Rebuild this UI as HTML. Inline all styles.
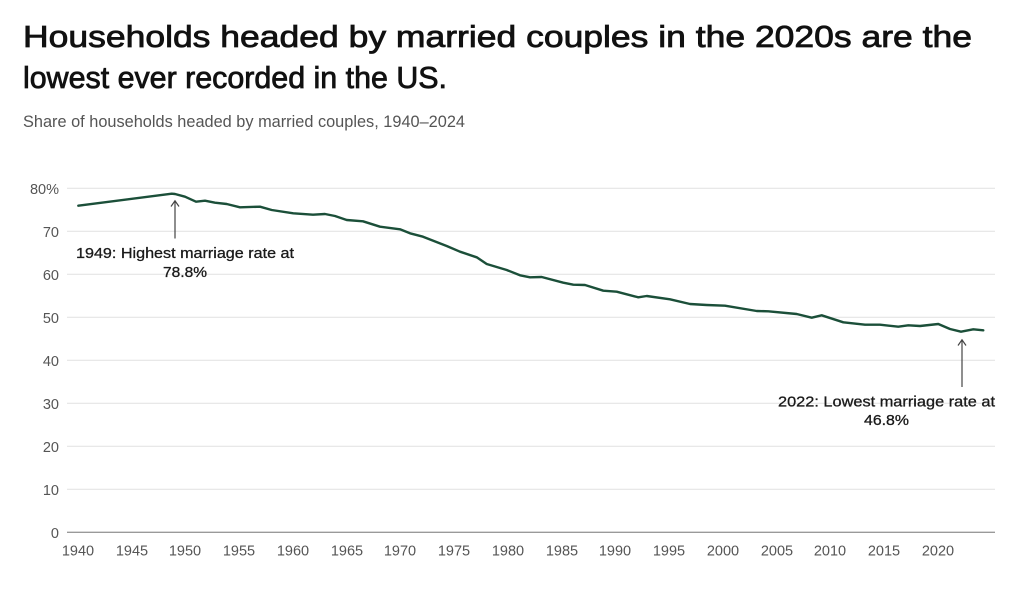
<!DOCTYPE html>
<html>
<head>
<meta charset="utf-8">
<style>
  html,body{margin:0;padding:0;background:#fff;}
  svg{display:block;}
  text{font-family:"Liberation Sans",Arial,sans-serif;}
</style>
</head>
<body>
<svg width="1024" height="594" viewBox="0 0 1024 594" xmlns="http://www.w3.org/2000/svg">
  <rect width="1024" height="594" fill="#fff"/>
  <!-- Title -->
  <text x="23" y="47" font-size="31" font-weight="400" fill="#111" stroke="#111" stroke-width="0.8" textLength="949" lengthAdjust="spacingAndGlyphs">Households headed by married couples in the 2020s are the</text>
  <text x="23" y="88" font-size="31" font-weight="400" fill="#111" stroke="#111" stroke-width="0.8" textLength="424" lengthAdjust="spacingAndGlyphs">lowest ever recorded in the US.</text>
  <text x="23" y="127" font-size="16.5" fill="#555" textLength="442" lengthAdjust="spacingAndGlyphs">Share of households headed by married couples, 1940–2024</text>

  <!-- Gridlines -->
  <g stroke="#e4e4e4" stroke-width="1.2">
    <line x1="67" x2="995" y1="188.3" y2="188.3"/>
    <line x1="67" x2="995" y1="231.3" y2="231.3"/>
    <line x1="67" x2="995" y1="274.3" y2="274.3"/>
    <line x1="67" x2="995" y1="317.3" y2="317.3"/>
    <line x1="67" x2="995" y1="360.3" y2="360.3"/>
    <line x1="67" x2="995" y1="403.3" y2="403.3"/>
    <line x1="67" x2="995" y1="446.3" y2="446.3"/>
    <line x1="67" x2="995" y1="489.3" y2="489.3"/>
  </g>
  <line x1="67" x2="995" y1="532.3" y2="532.3" stroke="#9a9a9a" stroke-width="1.4"/>

  <!-- Y labels -->
  <g font-size="14.5" fill="#555" text-anchor="end">
    <text x="59" y="194">80%</text>
    <text x="59" y="237">70</text>
    <text x="59" y="280">60</text>
    <text x="59" y="323">50</text>
    <text x="59" y="366">40</text>
    <text x="59" y="409">30</text>
    <text x="59" y="452">20</text>
    <text x="59" y="495">10</text>
    <text x="59" y="538">0</text>
  </g>

  <!-- X labels -->
  <g font-size="14.5" fill="#555" text-anchor="middle">
    <text x="78" y="555.5">1940</text>
    <text x="132" y="555.5">1945</text>
    <text x="185" y="555.5">1950</text>
    <text x="239" y="555.5">1955</text>
    <text x="293" y="555.5">1960</text>
    <text x="347" y="555.5">1965</text>
    <text x="400" y="555.5">1970</text>
    <text x="454" y="555.5">1975</text>
    <text x="508" y="555.5">1980</text>
    <text x="562" y="555.5">1985</text>
    <text x="615" y="555.5">1990</text>
    <text x="669" y="555.5">1995</text>
    <text x="723" y="555.5">2000</text>
    <text x="777" y="555.5">2005</text>
    <text x="830" y="555.5">2010</text>
    <text x="884" y="555.5">2015</text>
    <text x="938" y="555.5">2020</text>
  </g>

  <!-- Data line -->
  <polyline fill="none" stroke="#1b4f39" stroke-width="2.4" stroke-linejoin="round" stroke-linecap="round"
    points="78.3,205.7 171.7,193.7 175,194 185,196.7 196,201.7 205,200.7 215,202.7 226.7,204 240,207.3 260,206.7 271.7,210 293.3,213.3 313,214.7 325,214 335,216 346.7,220 363,221.3 380,226.7 400,229.3 410,233.3 423,236.7 446.7,246 460,251.7 476.7,257.3 486.7,264 506.7,270 520,275.3 530,277.3 541.7,277 563.3,282.7 573.3,284.7 585,285 603.3,290.7 616.7,291.7 638.3,297.3 646.7,296 670,299.3 690,304 706.7,305 725,305.7 756.7,311 768.3,311.3 796.7,314 811.7,317.7 821.7,315.3 843.3,322.3 865,324.7 880,324.7 898.3,326.7 908.3,325.3 920,326 938.3,324 950,329 961,331.7 973.3,329.3 983.3,330.3"/>

  <!-- Annotation 1 -->
  <g stroke="#444" stroke-width="1.2" fill="none">
    <line x1="175" y1="201" x2="175" y2="238.5"/>
    <polyline points="171,206.5 175,200.8 179,206.5"/>
  </g>
  <text x="185" y="258" font-size="15" fill="#1a1a1a" stroke="#1a1a1a" stroke-width="0.3" text-anchor="middle" textLength="218" lengthAdjust="spacingAndGlyphs">1949: Highest marriage rate at</text>
  <text x="185" y="277" font-size="15" fill="#1a1a1a" stroke="#1a1a1a" stroke-width="0.3" text-anchor="middle" textLength="44" lengthAdjust="spacingAndGlyphs">78.8%</text>

  <!-- Annotation 2 -->
  <g stroke="#444" stroke-width="1.2" fill="none">
    <line x1="962" y1="340" x2="962" y2="387"/>
    <polyline points="958,345.5 962,339.8 966,345.5"/>
  </g>
  <text x="886.5" y="406.5" font-size="15" fill="#1a1a1a" stroke="#1a1a1a" stroke-width="0.3" text-anchor="middle" textLength="217" lengthAdjust="spacingAndGlyphs">2022: Lowest marriage rate at</text>
  <text x="886.5" y="425" font-size="15" fill="#1a1a1a" stroke="#1a1a1a" stroke-width="0.3" text-anchor="middle" textLength="45" lengthAdjust="spacingAndGlyphs">46.8%</text>
</svg>
</body>
</html>
